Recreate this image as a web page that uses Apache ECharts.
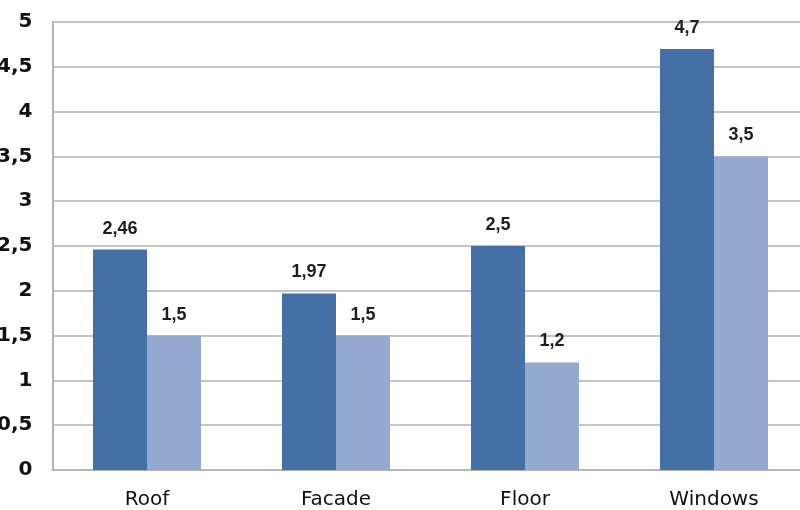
<!DOCTYPE html>
<html>
<head>
<meta charset="utf-8">
<script src="https://cdn.jsdelivr.net/npm/echarts@6/dist/echarts.min.js"></script>
<style>
  html, body { margin: 0; padding: 0; background: #ffffff; }
  #chart { width: 800px; height: 510px; }
</style>
</head>
<body>
<div id="chart"></div>
<script>
// Building elements and their two sets of values
const categories = ['Roof', 'Facade', 'Floor', 'Windows'];
const seriesA = [2.46, 1.97, 2.5, 4.7];
const seriesB = [1.5, 1.5, 1.2, 3.5];
const yTicks = [0, 0.5, 1, 1.5, 2, 2.5, 3, 3.5, 4, 4.5, 5];

const commaNum = v => String(v).replace('.', ',');

const chart = echarts.init(document.getElementById('chart'), null, { renderer: 'canvas' });

const labelStyle = {
  show: true,
  position: 'top',
  distance: 12,
  fontFamily: 'Liberation Sans',
  fontWeight: 'bold',
  fontSize: 18,
  color: '#1e1e1e',
  formatter: p => commaNum(p.value)
};

chart.setOption({
  backgroundColor: '#ffffff',
  animation: false,
  grid: {
    left: 52.5, top: 22, width: 756, height: 448,
    containLabel: false,
    outerBoundsMode: 'none'
  },
  xAxis: {
    type: 'category',
    data: categories,
    axisLine: { show: true, lineStyle: { color: '#b4b4b4', width: 2 } },
    axisTick: { show: false },
    axisLabel: {
      margin: 20,
      fontFamily: 'DejaVu Sans',
      fontSize: 20,
      color: '#111111'
    },
    splitLine: { show: false }
  },
  yAxis: {
    type: 'value',
    min: yTicks[0],
    max: yTicks[yTicks.length - 1],
    interval: 0.5,
    axisLine: { show: true, lineStyle: { color: '#b4b4b4', width: 2 } },
    axisTick: { show: false },
    axisLabel: {
      margin: 20,
      fontFamily: 'DejaVu Sans',
      fontWeight: 'bold',
      fontSize: 20,
      color: '#111111',
      formatter: v => commaNum(v)
    },
    splitLine: { show: true, lineStyle: { color: '#c4c4c4', width: 2 } }
  },
  series: [
    {
      type: 'bar',
      data: seriesA,
      barWidth: 54,
      barGap: '0%',
      itemStyle: { color: '#4570a6' },
      label: labelStyle
    },
    {
      type: 'bar',
      data: seriesB,
      barWidth: 54,
      barGap: '0%',
      itemStyle: { color: '#93a9d0' },
      label: labelStyle
    }
  ]
});
</script>
</body>
</html>
